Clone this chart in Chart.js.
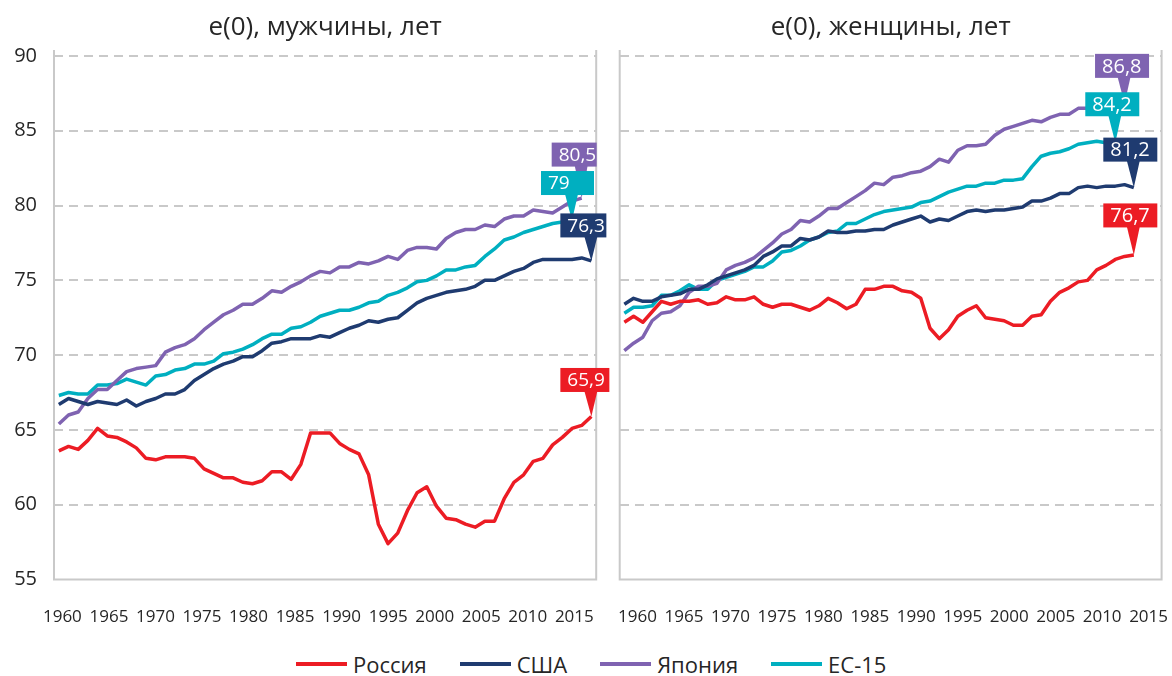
<!DOCTYPE html>
<html>
<head>
<meta charset="utf-8">
<script src="https://cdn.jsdelivr.net/npm/chart.js@4.4.1/dist/chart.umd.min.js"></script>
<style>
  html, body { margin: 0; padding: 0; background: #fff; }
  body { width: 1172px; height: 676px; position: relative; overflow: hidden; font-family: "Open Sans", sans-serif; }
  #wrapMen { position: absolute; left: 0; top: 0; width: 620px; height: 640px; }
  #wrapWomen { position: absolute; left: 600px; top: 0; width: 572px; height: 640px; }
  #legend { position: absolute; left: 296px; top: 650px; height: 28px; display: flex; align-items: center; font-size: 22px; color: #262626; }
  #legend .item { display: flex; align-items: center; margin-right: 33px; }
  #legend .swatch { width: 51px; height: 4px; margin-right: 6px; margin-top: -1px; }
</style>
</head>
<body>
<div id="wrapMen"><canvas id="men"></canvas></div>
<div id="wrapWomen"><canvas id="women"></canvas></div>
<div id="legend"></div>
<script>
// years of the series
const years = [1960, 1961, 1962, 1963, 1964, 1965, 1966, 1967, 1968, 1969,
               1970, 1971, 1972, 1973, 1974, 1975, 1976, 1977, 1978, 1979,
               1980, 1981, 1982, 1983, 1984, 1985, 1986, 1987, 1988, 1989,
               1990, 1991, 1992, 1993, 1994, 1995, 1996, 1997, 1998, 1999,
               2000, 2001, 2002, 2003, 2004, 2005, 2006, 2007, 2008, 2009,
               2010, 2011, 2012, 2013, 2014, 2015];
const tickYears = [1960, 1965, 1970, 1975, 1980, 1985, 1990, 1995, 2000, 2005, 2010, 2015];
const yTicks = [55, 60, 65, 70, 75, 80, 85, 90];

const seriesNames = ['Россия', 'США', 'Япония', 'ЕС-15'];
const seriesColors = ['#EC1C24', '#1F3B70', '#7F63B1', '#00AFC0'];

// e(0), men
const russiaMen = [63.6, 63.9, 63.7, 64.3, 65.1, 64.6, 64.5, 64.2, 63.8, 63.1,
                   63.0, 63.2, 63.2, 63.2, 63.1, 62.4, 62.1, 61.8, 61.8, 61.5,
                   61.4, 61.6, 62.2, 62.2, 61.7, 62.7, 64.8, 64.8, 64.8, 64.1,
                   63.7, 63.4, 62.0, 58.7, 57.4, 58.1, 59.6, 60.8, 61.2, 59.9,
                   59.1, 59.0, 58.7, 58.5, 58.9, 58.9, 60.4, 61.5, 62.0, 62.9,
                   63.1, 64.0, 64.5, 65.1, 65.3, 65.9];
const usaMen = [66.7, 67.1, 66.9, 66.7, 66.9, 66.8, 66.7, 67.0, 66.6, 66.9,
                67.1, 67.4, 67.4, 67.7, 68.3, 68.7, 69.1, 69.4, 69.6, 69.9,
                69.9, 70.3, 70.8, 70.9, 71.1, 71.1, 71.1, 71.3, 71.2, 71.5,
                71.8, 72.0, 72.3, 72.2, 72.4, 72.5, 73.0, 73.5, 73.8, 74.0,
                74.2, 74.3, 74.4, 74.6, 75.0, 75.0, 75.3, 75.6, 75.8, 76.2,
                76.4, 76.4, 76.4, 76.4, 76.5, 76.3];
const japanMen = [65.4, 66.0, 66.2, 67.1, 67.7, 67.7, 68.3, 68.9, 69.1, 69.2,
                  69.3, 70.2, 70.5, 70.7, 71.1, 71.7, 72.2, 72.7, 73.0, 73.4,
                  73.4, 73.8, 74.3, 74.2, 74.6, 74.9, 75.3, 75.6, 75.5, 75.9,
                  75.9, 76.2, 76.1, 76.3, 76.6, 76.4, 77.0, 77.2, 77.2, 77.1,
                  77.8, 78.2, 78.4, 78.4, 78.7, 78.6, 79.1, 79.3, 79.3, 79.7,
                  79.6, 79.5, 79.9, 80.3, 80.5];
const eu15Men = [67.3, 67.5, 67.4, 67.4, 68.0, 68.0, 68.1, 68.4, 68.2, 68.0,
                 68.6, 68.7, 69.0, 69.1, 69.4, 69.4, 69.6, 70.1, 70.2, 70.4,
                 70.7, 71.1, 71.4, 71.4, 71.8, 71.9, 72.2, 72.6, 72.8, 73.0,
                 73.0, 73.2, 73.5, 73.6, 74.0, 74.2, 74.5, 74.9, 75.0, 75.3,
                 75.7, 75.7, 75.9, 76.0, 76.6, 77.1, 77.7, 77.9, 78.2, 78.4,
                 78.6, 78.8, 78.9, 79];

// e(0), women
const russiaWomen = [72.2, 72.6, 72.2, 72.9, 73.6, 73.4, 73.6, 73.6, 73.7, 73.4,
                     73.5, 73.9, 73.7, 73.7, 73.9, 73.4, 73.2, 73.4, 73.4, 73.2,
                     73.0, 73.3, 73.8, 73.5, 73.1, 73.4, 74.4, 74.4, 74.6, 74.6,
                     74.3, 74.2, 73.8, 71.8, 71.1, 71.7, 72.6, 73.0, 73.3, 72.5,
                     72.4, 72.3, 72.0, 72.0, 72.6, 72.7, 73.6, 74.2, 74.5, 74.9,
                     75.0, 75.7, 76.0, 76.4, 76.6, 76.7];
const usaWomen = [73.4, 73.8, 73.6, 73.6, 73.9, 74.0, 74.1, 74.4, 74.4, 74.7,
                  75.1, 75.3, 75.5, 75.7, 76.0, 76.6, 76.9, 77.3, 77.3, 77.8,
                  77.7, 77.9, 78.3, 78.2, 78.2, 78.3, 78.3, 78.4, 78.4, 78.7,
                  78.9, 79.1, 79.3, 78.9, 79.1, 79.0, 79.3, 79.6, 79.7, 79.6,
                  79.7, 79.7, 79.8, 79.9, 80.3, 80.3, 80.5, 80.8, 80.8, 81.2,
                  81.3, 81.2, 81.3, 81.3, 81.4, 81.2];
const japanWomen = [70.3, 70.8, 71.2, 72.3, 72.8, 72.9, 73.3, 74.2, 74.6, 74.6,
                    74.8, 75.7, 76.0, 76.2, 76.5, 77.0, 77.5, 78.1, 78.4, 79.0,
                    78.9, 79.3, 79.8, 79.8, 80.2, 80.6, 81.0, 81.5, 81.4, 81.9,
                    82.0, 82.2, 82.3, 82.6, 83.1, 82.9, 83.7, 84.0, 84.0, 84.1,
                    84.7, 85.1, 85.3, 85.5, 85.7, 85.6, 85.9, 86.1, 86.1, 86.5,
                    86.5, 86.2, 86.5, 86.6, 86.8];
const eu15Women = [72.8, 73.2, 73.2, 73.3, 74.0, 74.0, 74.3, 74.7, 74.4, 74.4,
                   75.0, 75.2, 75.4, 75.6, 75.9, 75.9, 76.3, 76.9, 77.0, 77.3,
                   77.7, 77.9, 78.2, 78.3, 78.8, 78.8, 79.1, 79.4, 79.6, 79.7,
                   79.8, 79.9, 80.2, 80.3, 80.6, 80.9, 81.1, 81.3, 81.3, 81.5,
                   81.5, 81.7, 81.7, 81.8, 82.6, 83.3, 83.5, 83.6, 83.8, 84.1,
                   84.2, 84.3, 84.2, 84.2];

const FONT = '"Open Sans", "Noto Sans", sans-serif';
const TEXT = '#262626';
const GRID = '#C9C9C9';

// value labels at the end of each line, like Excel's data callouts
function fmt(v) {
    return String(v).replace('.', ',');
}

const calloutPlugin = {
    id: 'callouts',
    afterDatasetsDraw(chart) {
        const ctx = chart.ctx;
        const order = chart.data.datasets
            .map((ds, i) => i)
            .sort((a, b) => chart.data.datasets[a].callout.z - chart.data.datasets[b].callout.z);
        ctx.save();
        order.forEach(i => {
            const ds = chart.data.datasets[i];
            const meta = chart.getDatasetMeta(i);
            const last = meta.data[meta.data.length - 1];
            const c = ds.callout;
            const px = last.x, py = last.y;
            const bx = px + c.dx, by = py + c.dy, bw = c.w, bh = 24;
            ctx.fillStyle = ds.borderColor;
            ctx.fillRect(bx, by, bw, bh);
            // pointer
            ctx.beginPath();
            ctx.moveTo(Math.max(bx, px - 7), by + bh - 1);
            ctx.lineTo(Math.min(bx + bw, px + 6), by + bh - 1);
            ctx.lineTo(px, py);
            ctx.closePath();
            ctx.fill();
            ctx.fillStyle = '#fff';
            ctx.font = c.size + 'px ' + FONT;
            ctx.textAlign = 'left';
            ctx.textBaseline = 'middle';
            ctx.fillText(fmt(ds.data[ds.data.length - 1].y), bx + 7, by + bh / 2 + 1);
        });
        ctx.restore();
    }
};

// solid left / right / bottom frame of the plot area
const framePlugin = {
    id: 'frame',
    beforeDatasetsDraw(chart) {
        const { ctx, chartArea } = chart;
        const { left, right, top, bottom } = chartArea;
        ctx.save();
        ctx.strokeStyle = GRID;
        ctx.lineWidth = 2;
        ctx.beginPath();
        ctx.moveTo(left, top - 6);
        ctx.lineTo(left, bottom);
        ctx.lineTo(right, bottom);
        ctx.lineTo(right, top - 6);
        ctx.stroke();
        ctx.restore();
    }
};

function toPoints(values) {
    return values.map((v, i) => ({ x: years[i], y: v }));
}

function makeDatasets(list, callouts) {
    return list.map((values, i) => ({
        label: seriesNames[i],
        data: toPoints(values),
        xAxisID: 'x',
        yAxisID: 'y',
        borderColor: seriesColors[i],
        backgroundColor: seriesColors[i],
        borderWidth: 3.5,
        pointRadius: 0,
        tension: 0,
        borderJoinStyle: 'round',
        callout: callouts[i]
    }));
}

function makeChart(canvas, cfg) {
    return new Chart(canvas.getContext('2d'), {
        type: 'line',
        data: { datasets: makeDatasets(cfg.series, cfg.callouts) },
        options: {
            responsive: true,
            maintainAspectRatio: false,
            animation: false,
            layout: { padding: { left: 0, right: cfg.padRight, top: 0, bottom: 0 } },
            plugins: {
                legend: { display: false },
                tooltip: { enabled: false },
                title: {
                    display: true,
                    text: cfg.title,
                    fullSize: false,
                    color: TEXT,
                    font: { family: FONT, size: 26, weight: 'normal', lineHeight: 1.2 },
                    padding: { top: 11.9, bottom: 12.9 }
                }
            },
            scales: {
                x: {
                    type: 'linear',
                    display: false,
                    min: cfg.dataMin,
                    max: cfg.dataMax
                },
                xl: {
                    type: 'linear',
                    position: 'bottom',
                    min: cfg.labelMin,
                    max: cfg.labelMax,
                    // invisible tick marks only push the labels down
                    grid: { display: true, drawOnChartArea: false, drawTicks: true, tickLength: 24, color: 'rgba(0,0,0,0)' },
                    border: { display: false },
                    afterBuildTicks: s => { s.ticks = tickYears.map(v => ({ value: v })); },
                    afterFit: s => { s.height = 60.5; },
                    ticks: {
                        autoSkip: false,
                        maxRotation: 0,
                        padding: 3,
                        color: TEXT,
                        font: { family: FONT, size: 17 },
                        callback: v => String(v)
                    }
                },
                y: {
                    min: 55,
                    max: 90,
                    afterBuildTicks: s => { s.ticks = yTicks.map(v => ({ value: v })); },
                    afterFit: s => { s.width = cfg.yWidth; },
                    grid: {
                        drawTicks: false,
                        lineWidth: 2,
                        color: c => (c.tick && c.tick.value === 55) ? 'rgba(0,0,0,0)' : GRID
                    },
                    border: { display: false, dash: [9, 6] },
                    ticks: {
                        display: cfg.showY,
                        padding: 17,
                        color: TEXT,
                        font: { family: FONT, size: 20 }
                    }
                }
            }
        },
        plugins: [framePlugin, calloutPlugin]
    });
}

makeChart(document.getElementById('men'), {
    title: 'e(0), мужчины, лет',
    series: [russiaMen, usaMen, japanMen, eu15Men],
    callouts: [
        { dx: -31, dy: -48.5, w: 49, size: 19, z: 4 },
        { dx: -31, dy: -47.5, w: 46, size: 19, z: 3 },
        { dx: -30, dy: -55.5, w: 45, size: 19, z: 1 },
        { dx: -31, dy: -49.5, w: 53, size: 19, z: 2 }
    ],
    dataMin: 1959.5, dataMax: 2015.5,
    labelMin: 1959.1, labelMax: 2017.35,
    yWidth: 54, padRight: 23.8, showY: true
});

makeChart(document.getElementById('women'), {
    title: 'e(0), женщины, лет',
    series: [russiaWomen, usaWomen, japanWomen, eu15Women],
    callouts: [
        { dx: -30.5, dy: -51.5, w: 54, size: 20, z: 4 },
        { dx: -30.5, dy: -50, w: 54, size: 20, z: 3 },
        { dx: -29.5, dy: -50, w: 54, size: 20, z: 1 },
        { dx: -30, dy: -50.5, w: 54, size: 20, z: 2 }
    ],
    dataMin: 1959.5, dataMax: 2018.0,
    labelMin: 1958.08, labelMax: 2016.4,
    yWidth: 19.7, padRight: 10.4, showY: false
});

// legend
const legend = document.getElementById('legend');
seriesNames.forEach((name, i) => {
    const item = document.createElement('div');
    item.className = 'item';
    const sw = document.createElement('span');
    sw.className = 'swatch';
    sw.style.background = seriesColors[i];
    const label = document.createElement('span');
    label.textContent = name;
    item.appendChild(sw);
    item.appendChild(label);
    legend.appendChild(item);
});
</script>
</body>
</html>
